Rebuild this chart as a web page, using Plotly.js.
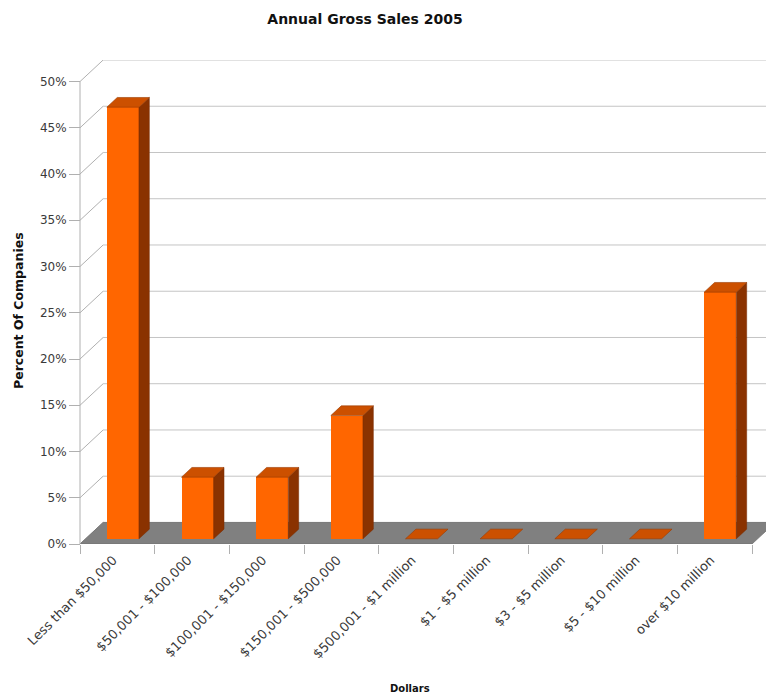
<!DOCTYPE html>
<html><head><meta charset="utf-8">
<script src="https://cdn.plot.ly/plotly-3.0.1.min.js"></script>
<style>html,body{margin:0;padding:0;background:#fff}#chart{width:766px;height:695px}</style>
</head><body><div id="chart"></div>
<script>
// ---- data ----
const categories = ["Less than $50,000", "$50,001 - $100,000", "$100,001 - $150,000", "$150,001 - $500,000", "$500,001 - $1 million", "$1 - $5 million", "$3 - $5 million", "$5 - $10 million", "over $10 million"];
const percentValues = [46.67, 6.67, 6.67, 13.33, 0, 0, 0, 0, 26.67];
const yTickValues = [0, 5, 10, 15, 20, 25, 30, 35, 40, 45, 50];
const yTickLabels = ["0%", "5%", "10%", "15%", "20%", "25%", "30%", "35%", "40%", "45%", "50%"];

// ---- geometry / style ----
const W = 766, H = 695;
const FRONT_LEFT = 80, CAT_PX = 672 / 9;
const MARGIN = {l: 72, r: 0, t: 60, b: 151};
const plotW = W - MARGIN.l - MARGIN.r, plotH = H - MARGIN.t - MARGIN.b;
const DEPTH_X = 0.31, DEPTH_Y = 2.33;
const BAR_HALF = 0.215, BAR_D0 = 0.24, BAR_D1 = 0.69;
const YMAX = 50;
const xmin = -0.5 - (FRONT_LEFT - MARGIN.l) / CAT_PX;
const xmax = -0.5 + (W - FRONT_LEFT) / CAT_PX;
const ytop = YMAX + DEPTH_Y;
const nCat = categories.length;
const catIdx = categories.map((_, i) => i);
const boundaries = Array.from({length: nCat + 1}, (_, i) => i - 0.5);
const FONT = "DejaVu Sans, Verdana, sans-serif";

const COL_FRONT = "#ff6600", COL_TOP = "#cc5000", COL_SIDE = "#8a3200";

// front faces
const barTrace = {
  type: "bar",
  x: catIdx.map(i => i + BAR_D0 * DEPTH_X),
  y: percentValues,
  base: BAR_D0 * DEPTH_Y,
  width: 2 * BAR_HALF,
  marker: {color: COL_FRONT, line: {width: 0}},
  hoverinfo: "skip",
  showlegend: false
};

// top & side faces
const bdx = (BAR_D1 - BAR_D0) * DEPTH_X, bdy = (BAR_D1 - BAR_D0) * DEPTH_Y;
const topX = [], topY = [], sideX = [], sideY = [];
percentValues.forEach((v, i) => {
  const xl = i - BAR_HALF + BAR_D0 * DEPTH_X, xr = xl + 2 * BAR_HALF;
  const yb = BAR_D0 * DEPTH_Y, yt = v + yb;
  topX.push(xl, xr, xr + bdx, xl + bdx, xl, null);
  topY.push(yt, yt, yt + bdy, yt + bdy, yt, null);
  if (v > 0) {
    sideX.push(xr, xr + bdx, xr + bdx, xr, xr, null);
    sideY.push(yb, yb + bdy, yt + bdy, yt, yb, null);
  }
});
const topTrace = {type: "scatter", mode: "lines", x: topX, y: topY, fill: "toself",
  fillcolor: COL_TOP, line: {color: "#9a3a00", width: 0.6}, hoverinfo: "skip", showlegend: false};
const sideTrace = {type: "scatter", mode: "lines", x: sideX, y: sideY, fill: "toself",
  fillcolor: COL_SIDE, line: {color: "#7a2c00", width: 0.5}, hoverinfo: "skip", showlegend: false};

// walls, floor, gridlines
const shapes = [];
yTickValues.forEach(v => {
  shapes.push({type: "line", layer: "below", xref: "x", yref: "y",
    x0: -0.5 + DEPTH_X, x1: xmax + 1, y0: v + DEPTH_Y, y1: v + DEPTH_Y,
    line: {color: "#c4c4c4", width: 1}});
  shapes.push({type: "line", layer: "below", xref: "x", yref: "y",
    x0: -0.5, x1: -0.5 + DEPTH_X, y0: v, y1: v + DEPTH_Y,
    line: {color: "#b0b0b0", width: 1}});
});
shapes.push({type: "path", layer: "below", xref: "x", yref: "y",
  path: `M ${-0.5} 0 L ${nCat - 0.5} 0 L ${nCat - 0.5 + DEPTH_X} ${DEPTH_Y} L ${-0.5 + DEPTH_X} ${DEPTH_Y} Z`,
  fillcolor: "#808080", line: {color: "#707070", width: 0.8}});
shapes.push({type: "line", layer: "below", xref: "x", yref: "y",
  x0: -0.5, x1: -0.5, y0: 0, y1: YMAX, line: {color: "#b0b0b0", width: 1}});

function px2paperX(px) { return (px - MARGIN.l) / plotW; }
function px2paperY(py) { return (H - MARGIN.b - py) / plotH; }

const layout = {
  width: W, height: H, margin: MARGIN,
  paper_bgcolor: "#ffffff", plot_bgcolor: "rgba(0,0,0,0)",
  font: {family: FONT, color: "#333"},
  title: {text: "<b>Annual Gross Sales 2005</b>", font: {family: FONT, size: 14, color: "#111"},
    xref: "container", yref: "container", x: 365 / W, y: 1 - 19 / H, xanchor: "center", yanchor: "middle"},
  bargap: 0,
  xaxis: {range: [xmin, xmax], tickmode: "array", tickvals: catIdx, ticktext: categories,
    tickangle: -45, ticks: "", showgrid: false, zeroline: false, showline: false,
    ticklabelstandoff: 5, ticklabelshift: -4,
    tickfont: {family: FONT, size: 13, color: "#3a3a3a"}, fixedrange: true},
  xaxis2: {overlaying: "x", anchor: "y", side: "bottom", range: [xmin, xmax], tickmode: "array",
    tickvals: boundaries, ticks: "outside", ticklen: 9, tickcolor: "#b0b0b0", tickwidth: 1,
    showticklabels: false, showgrid: false, zeroline: false, showline: false, fixedrange: true},
  yaxis: {range: [0, ytop], anchor: "free", position: px2paperX(FRONT_LEFT), tickmode: "array",
    tickvals: yTickValues, ticktext: yTickLabels, ticks: "outside", ticklen: 11, tickcolor: "#b0b0b0",
    showgrid: false, zeroline: false, showline: false,
    tickfont: {family: FONT, size: 12, color: "#3a3a3a"}, fixedrange: true},
  shapes: shapes,
  annotations: [
    {text: "<b>Percent Of Companies</b>", textangle: -90, xref: "paper", yref: "paper",
      x: px2paperX(18), y: px2paperY(311), xanchor: "center", yanchor: "middle", showarrow: false,
      font: {family: FONT, size: 12.5, color: "#111"}},
    {text: "<b>Dollars</b>", xref: "paper", yref: "paper",
      x: px2paperX(410), y: px2paperY(688), xanchor: "center", yanchor: "middle", showarrow: false,
      font: {family: FONT, size: 10, color: "#111"}}
  ]
};

const boundaryTrace = {type: "scatter", mode: "markers", x: [xmin], y: [0], xaxis: "x2", yaxis: "y",
  marker: {opacity: 0}, hoverinfo: "skip", showlegend: false};

Plotly.newPlot("chart", [barTrace, sideTrace, topTrace, boundaryTrace], layout, {displayModeBar: false, staticPlot: true});
</script></body></html>
